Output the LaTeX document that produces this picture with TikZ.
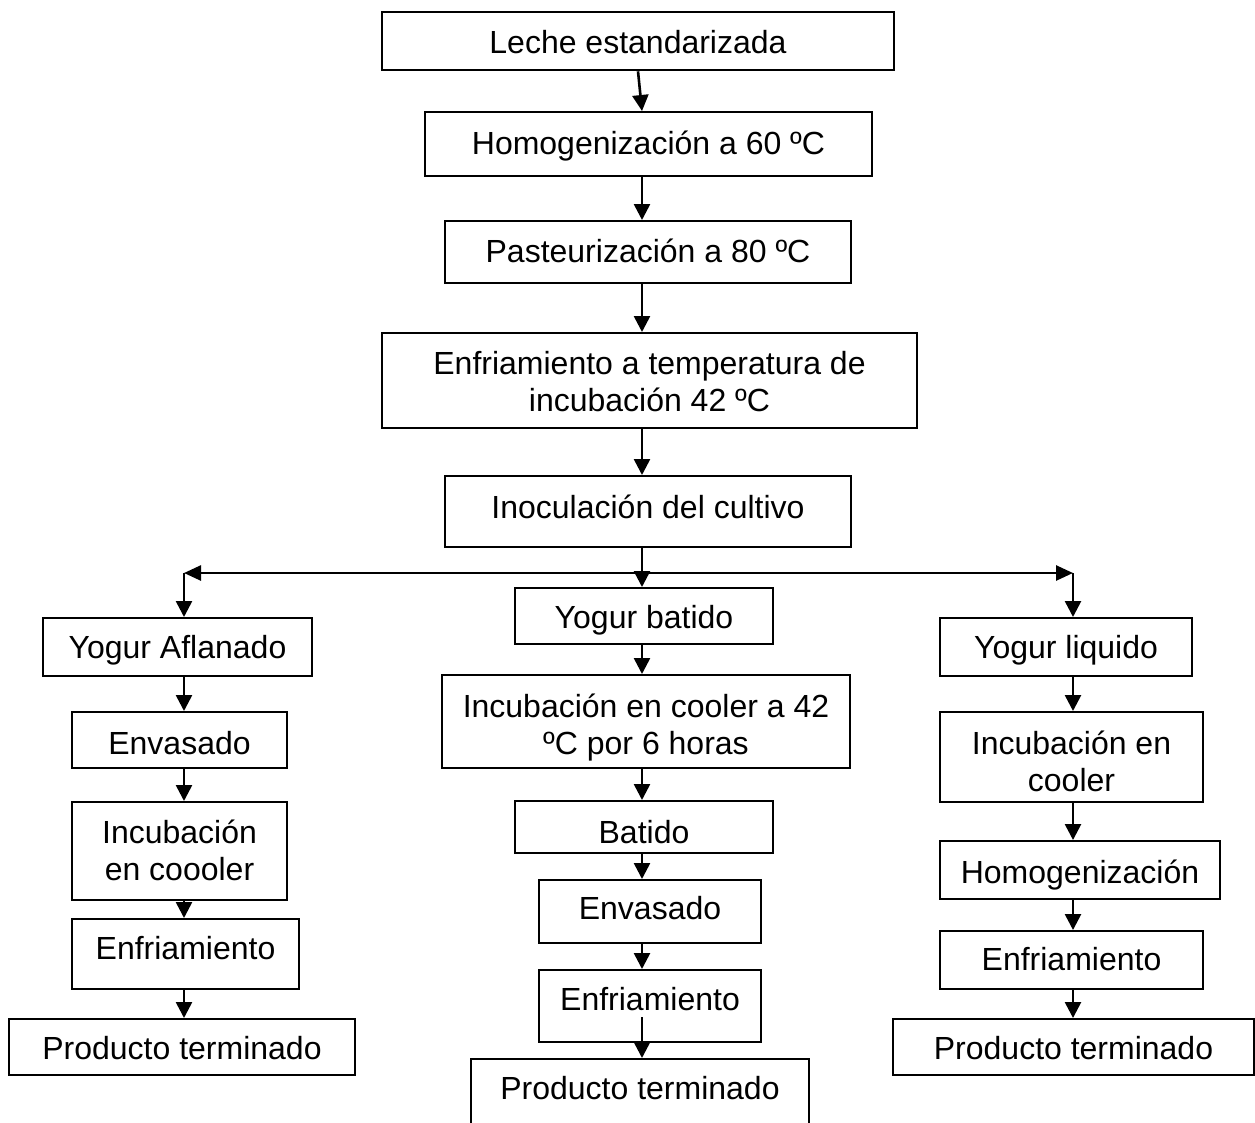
\documentclass[tikz,border=0pt]{standalone}
\usepackage{fontspec}
\setmainfont{Liberation Sans}
\usetikzlibrary{arrows.meta}

\tikzset{
  flbox/.style={draw, line width=2.3pt, fill=white, inner xsep=0pt, inner ysep=0pt,
    minimum height=0pt, font=\fontsize{32}{37}\selectfont},
  arr/.style={line width=2.6pt, -{Triangle[length=16pt,width=16pt]}},
  biarr/.style={line width=2.6pt,
    {Triangle[length=17pt,width=15pt]}-{Triangle[length=17pt,width=15pt]}},
}

% box from (x1,y1) to (x2,y2), first baseline at y = base
\newcommand\fbx[7]{%
  \pgfmathsetmacro\bw{#4-#2}%
  \pgfmathsetmacro\bcx{(#2+#4)/2}%
  \pgfmathsetmacro\bth{#6-#3}%
  \pgfmathsetmacro\btd{#5-#6}%
  \node[flbox, anchor=north, minimum width=\bw pt, text height=\bth pt,
        text depth=\btd pt] (#1) at (\bcx,#3) {#7};}
\newcommand\twol[2]{\begin{tabular}[t]{@{}c@{}}#1\\#2\end{tabular}}

\begin{document}
\begin{tikzpicture}[x=1pt,y=-1pt]
  \clip (0,0) rectangle (1255,1122);
  \fill[white] (0,0) rectangle (1255,1122);

  % main trunk
  \fbx{b1}{382}{11}{894}{69}{52}{Leche estandarizada}
  \fbx{b2}{425}{111}{872}{175}{153}{Homogenización a 60 ºC}
  \fbx{b3}{445}{220}{851}{282}{261}{Pasteurización a 80 ºC}
  \fbx{b4}{382}{332}{917}{427}{373}{\twol{Enfriamiento a temperatura de}{incubación 42 ºC}}
  \fbx{b5}{445}{475}{851}{546}{517}{Inoculación del cultivo}

  % middle branch
  \fbx{m1}{515}{587}{773}{643}{627}{Yogur batido}
  \fbx{m2}{442}{674}{850}{767}{716}{\twol{Incubación en cooler a 42}{ºC por 6 horas}}
  \fbx{m3}{515}{800}{773}{852}{842}{Batido}
  \fbx{m4}{539}{879}{761}{942}{918}{Envasado}
  \fbx{m5}{539}{969}{761}{1041}{1009}{Enfriamiento}
  \fbx{m6}{471}{1058}{809}{1140}{1098}{Producto terminado}

  % left branch
  \fbx{l1}{43}{617}{312}{675}{657}{Yogur Aflanado}
  \fbx{l2}{72}{711}{287}{767}{753}{Envasado}
  \fbx{l3}{72}{801}{287}{899}{842}{\twol{Incubación}{en coooler}}
  \fbx{l4}{72}{918}{299}{988}{958}{Enfriamiento}
  \fbx{l5}{9}{1018}{355}{1074}{1058}{Producto terminado}

  % right branch
  \fbx{r1}{940}{617}{1192}{675}{657}{Yogur liquido}
  \fbx{r2}{940}{711}{1203}{801}{753}{\twol{Incubación en}{cooler}}
  \fbx{r3}{940}{840}{1220}{898}{882}{Homogenización}
  \fbx{r4}{940}{930}{1203}{988}{969}{Enfriamiento}
  \fbx{r5}{893}{1018}{1254}{1074}{1058}{Producto terminado}

  % column axes and junctions
  \coordinate (cx) at (642,0);
  \coordinate (lx) at (184,0);
  \coordinate (rx) at (1073,0);
  \coordinate (jl) at (184,573);
  \coordinate (jr) at (1073,573);
  \coordinate (m5in) at (642,1017);

  % trunk connectors
  \draw[arr] (b1.south) -- (b2.north -| cx);
  \draw[arr] (b2.south -| cx) -- (b3.north -| cx);
  \draw[arr] (b3.south -| cx) -- (b4.north -| cx);
  \draw[arr] (b4.south -| cx) -- (b5.north -| cx);

  % split into three branches
  \draw[biarr] (jl) -- (jr);
  \draw[arr] (b5.south -| cx) -- (m1.north -| cx);
  \draw[arr] (jl) -- (l1.north -| jl);
  \draw[arr] (jr) -- (r1.north -| jr);

  % middle branch connectors
  \draw[arr] (m1.south -| cx) -- (m2.north -| cx);
  \draw[arr] (m2.south -| cx) -- (m3.north -| cx);
  \draw[arr] (m3.south -| cx) -- (m4.north -| cx);
  \draw[arr] (m4.south -| cx) -- (m5.north -| cx);
  \draw[arr] (m5in) -- (m6.north -| cx);

  % left branch connectors
  \draw[arr] (l1.south -| lx) -- (l2.north -| lx);
  \draw[arr] (l2.south -| lx) -- (l3.north -| lx);
  \draw[arr] (l3.south -| lx) -- (l4.north -| lx);
  \draw[arr] (l4.south -| lx) -- (l5.north -| lx);

  % right branch connectors
  \draw[arr] (r1.south -| rx) -- (r2.north -| rx);
  \draw[arr] (r2.south -| rx) -- (r3.north -| rx);
  \draw[arr] (r3.south -| rx) -- (r4.north -| rx);
  \draw[arr] (r4.south -| rx) -- (r5.north -| rx);
\end{tikzpicture}
\end{document}
